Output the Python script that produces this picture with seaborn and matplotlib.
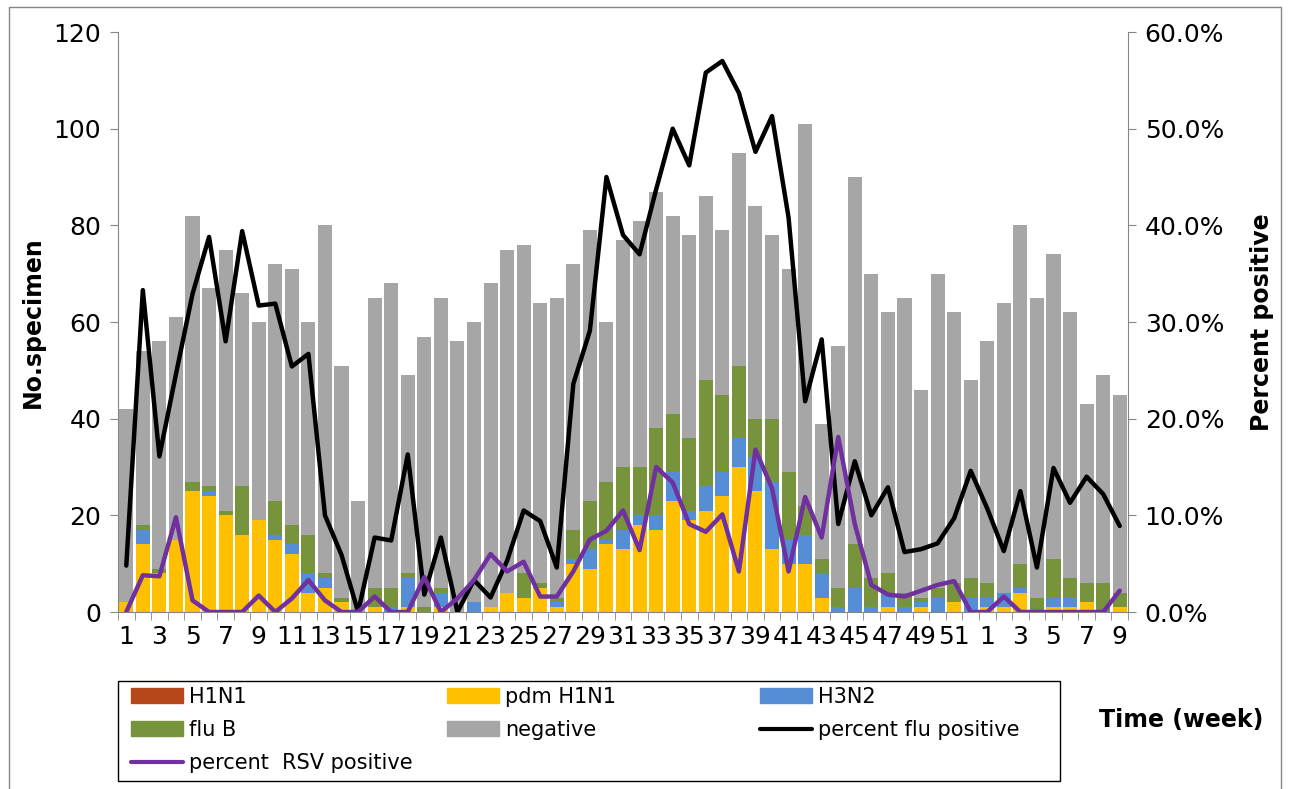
import numpy as np
import matplotlib.pyplot as plt
import seaborn as sns
from matplotlib.lines import Line2D
from matplotlib.patches import Patch, Rectangle

# --- data (61 weeks: wk1-52 then wk1-9) ---
weeks = list(range(1, 53)) + list(range(1, 10))

h1n1 = [0] * 61
pdm_h1n1 = [2, 14, 8, 15, 25, 24, 20, 16, 19, 15, 12, 4, 5, 2, 0, 1, 0, 1, 0, 1,
            0, 0, 1, 4, 3, 5, 1, 10, 9, 14, 13, 18, 17, 23, 19, 21, 24, 30, 25, 13,
            10, 10, 3, 0, 0, 0, 1, 0, 1, 0, 2, 0, 1, 1, 4, 0, 1, 1, 2, 0, 1]
h3n2 = [0, 3, 0, 0, 0, 1, 0, 0, 0, 1, 2, 4, 2, 0, 0, 0, 1, 6, 0, 3,
        0, 2, 0, 0, 0, 0, 1, 1, 4, 1, 4, 2, 3, 6, 2, 5, 5, 6, 7, 14,
        5, 6, 5, 1, 5, 1, 3, 1, 1, 3, 0, 3, 2, 3, 1, 0, 2, 2, 0, 0, 0]
flu_b = [0, 1, 1, 0, 2, 1, 1, 10, 0, 7, 4, 8, 1, 1, 0, 4, 4, 1, 1, 1,
         0, 0, 0, 0, 5, 1, 1, 6, 10, 12, 13, 10, 18, 12, 15, 22, 16, 15, 8, 13,
         14, 6, 3, 4, 9, 6, 4, 3, 1, 2, 4, 4, 3, 0, 5, 3, 8, 4, 4, 6, 3]
negative = [40, 36, 47, 46, 55, 41, 54, 40, 41, 49, 53, 44, 72, 48, 23, 60, 63, 41, 56, 60,
            56, 58, 67, 71, 68, 58, 62, 55, 56, 33, 47, 51, 49, 41, 42, 38, 34, 44, 44, 38,
            42, 79, 28, 50, 76, 63, 54, 61, 43, 65, 56, 41, 50, 60, 70, 62, 63, 55, 37, 43, 41]

flu_pos_pct = [4.8, 33.3, 16.1, 24.6, 32.9, 38.8, 28.0, 39.4, 31.7, 31.9, 25.4, 26.7, 10.0, 5.9,
               0.0, 7.7, 7.4, 16.3, 1.8, 7.7, 0.0, 3.3, 1.5, 5.3, 10.5, 9.4, 4.6, 23.6, 29.1,
               45.0, 39.0, 37.0, 43.7, 50.0, 46.2, 55.8, 57.0, 53.7, 47.6, 51.3, 40.8, 21.8,
               28.2, 9.1, 15.6, 10.0, 12.9, 6.2, 6.5, 7.1, 9.7, 14.6, 10.7, 6.3, 12.5, 4.6,
               14.9, 11.3, 14.0, 12.2, 8.9]
rsv_pos_pct = [0.0, 3.8, 3.7, 9.8, 1.2, 0.0, 0.0, 0.0, 1.7, 0.0, 1.4, 3.3, 1.2, 0.0, 0.0, 1.6,
               0.0, 0.0, 3.6, 0.0, 1.4, 3.3, 6.0, 4.2, 5.2, 1.6, 1.6, 4.2, 7.5, 8.4, 10.5, 6.4,
               15.0, 13.4, 9.1, 8.3, 10.1, 4.2, 16.8, 12.8, 4.2, 11.9, 7.7, 18.1, 9.1, 2.8,
               1.8, 1.6, 2.2, 2.8, 3.2, 0.0, 0.0, 1.6, 0.0, 0.0, 0.0, 0.0, 0.0, 0.0, 2.2]

colors = {'H1N1': '#B5471A', 'pdm H1N1': '#FFC000', 'H3N2': '#558ED5',
          'flu B': '#77933C', 'negative': '#A6A6A6'}

sns.set_style("ticks")
plt.rcParams['font.family'] = ['DejaVu Sans']
plt.rcParams['text.color'] = 'black'
plt.rcParams['xtick.labelcolor'] = 'black'
plt.rcParams['ytick.labelcolor'] = 'black'

W, H = 1290, 789
fig = plt.figure(figsize=(W / 100, H / 100), dpi=100)
ax = fig.add_axes([118 / W, 1 - 612 / H, 1010 / W, 580 / H])

idx = np.arange(len(weeks))
s_h1 = np.array(h1n1)
s_pdm = s_h1 + np.array(pdm_h1n1)
s_h3 = s_pdm + np.array(h3n2)
s_b = s_h3 + np.array(flu_b)
s_all = s_b + np.array(negative)

# stacked bars: draw cumulative layers from tallest to shortest
for vals, key in [(s_all, 'negative'), (s_b, 'flu B'), (s_h3, 'H3N2'),
                  (s_pdm, 'pdm H1N1'), (s_h1, 'H1N1')]:
    sns.barplot(x=idx, y=vals, color=colors[key], saturation=1, width=0.85,
                linewidth=0, errorbar=None, ax=ax)

ax2 = ax.twinx()
sns.lineplot(x=idx, y=flu_pos_pct, color='black', lw=3.2, ax=ax2)
sns.lineplot(x=idx, y=rsv_pos_pct, color='#7030A0', lw=3.2, ax=ax2)

grey = '#868686'
ax.set_xlim(-0.5, len(weeks) - 0.5)
ax.set_ylim(0, 120)
ax.set_yticks(range(0, 121, 20))
ax.set_xticks(idx[::2])
ax.set_xticklabels([str(w) for w in weeks[::2]])
ax.set_xticks(np.arange(-0.5, len(weeks)), minor=True)
ax.tick_params(axis='x', which='major', length=0, labelsize=18, pad=9, labelcolor='black')
ax.tick_params(axis='x', which='minor', length=6, color=grey, direction='out')
ax.tick_params(axis='y', length=6, color=grey, labelsize=18, pad=6, direction='out',
               labelcolor='black')
ax.set_xlabel('')
ax.set_ylabel('')

ax2.set_xlim(-0.5, len(weeks) - 0.5)
ax2.set_ylim(0, 60)
ax2.set_yticks(range(0, 61, 10))
ax2.set_yticklabels([f"{v:.1f}%" for v in range(0, 61, 10)])
ax2.tick_params(axis='y', length=6, color=grey, labelsize=18, pad=6, direction='out',
                labelcolor='black')
ax2.set_xlabel('')
ax2.set_ylabel('')

for a in (ax, ax2):
    a.spines['top'].set_visible(False)
    for s in ('left', 'right', 'bottom'):
        a.spines[s].set_color(grey)
ax.spines['right'].set_visible(False)
ax2.spines['left'].set_visible(False)
ax2.spines['bottom'].set_visible(False)

fig.text(33 / W, 1 - 322 / H, 'No.specimen', rotation=90, ha='center', va='center',
         fontsize=17, fontweight='bold', color='black')
fig.text(1262 / W, 1 - 322 / H, 'Percent positive', rotation=90, ha='center', va='center',
         fontsize=17, fontweight='bold', color='black')
fig.text(1181 / W, 1 - 720 / H, 'Time (week)', ha='center', va='center',
         fontsize=17, fontweight='bold', color='black')

# legend laid out as a 3-column grid, like the original
leg_cols = [
    (131, [Patch(color=colors['H1N1']), Patch(color=colors['flu B']),
           Line2D([], [], color='#7030A0', lw=3)],
     ['H1N1', 'flu B', 'percent  RSV positive']),
    (447, [Patch(color=colors['pdm H1N1']), Patch(color=colors['negative'])],
     ['pdm H1N1', 'negative']),
    (760, [Patch(color=colors['H3N2']), Line2D([], [], color='black', lw=3)],
     ['H3N2', 'percent flu positive']),
]
for x0, hs, ls in leg_cols:
    fig.legend(hs, ls, loc='upper left', bbox_to_anchor=(x0 / W, 1 - 687 / H),
               frameon=False, fontsize=15, handlelength=2.5, handleheight=0.7,
               handletextpad=0.3, labelspacing=0.62, borderpad=0, borderaxespad=0,
               labelcolor='black')
fig.add_artist(Rectangle((118 / W, 1 - 781 / H), (1060 - 118) / W, 100 / H,
                         transform=fig.transFigure, fill=False, ec='black', lw=1))

# outer chart-area border
fig.add_artist(Line2D([9 / W, 9 / W, 1281 / W, 1281 / W], [0, 1 - 7 / H, 1 - 7 / H, 0],
                      transform=fig.transFigure, color=grey, lw=1))

fig.savefig('out.png', dpi=100)
